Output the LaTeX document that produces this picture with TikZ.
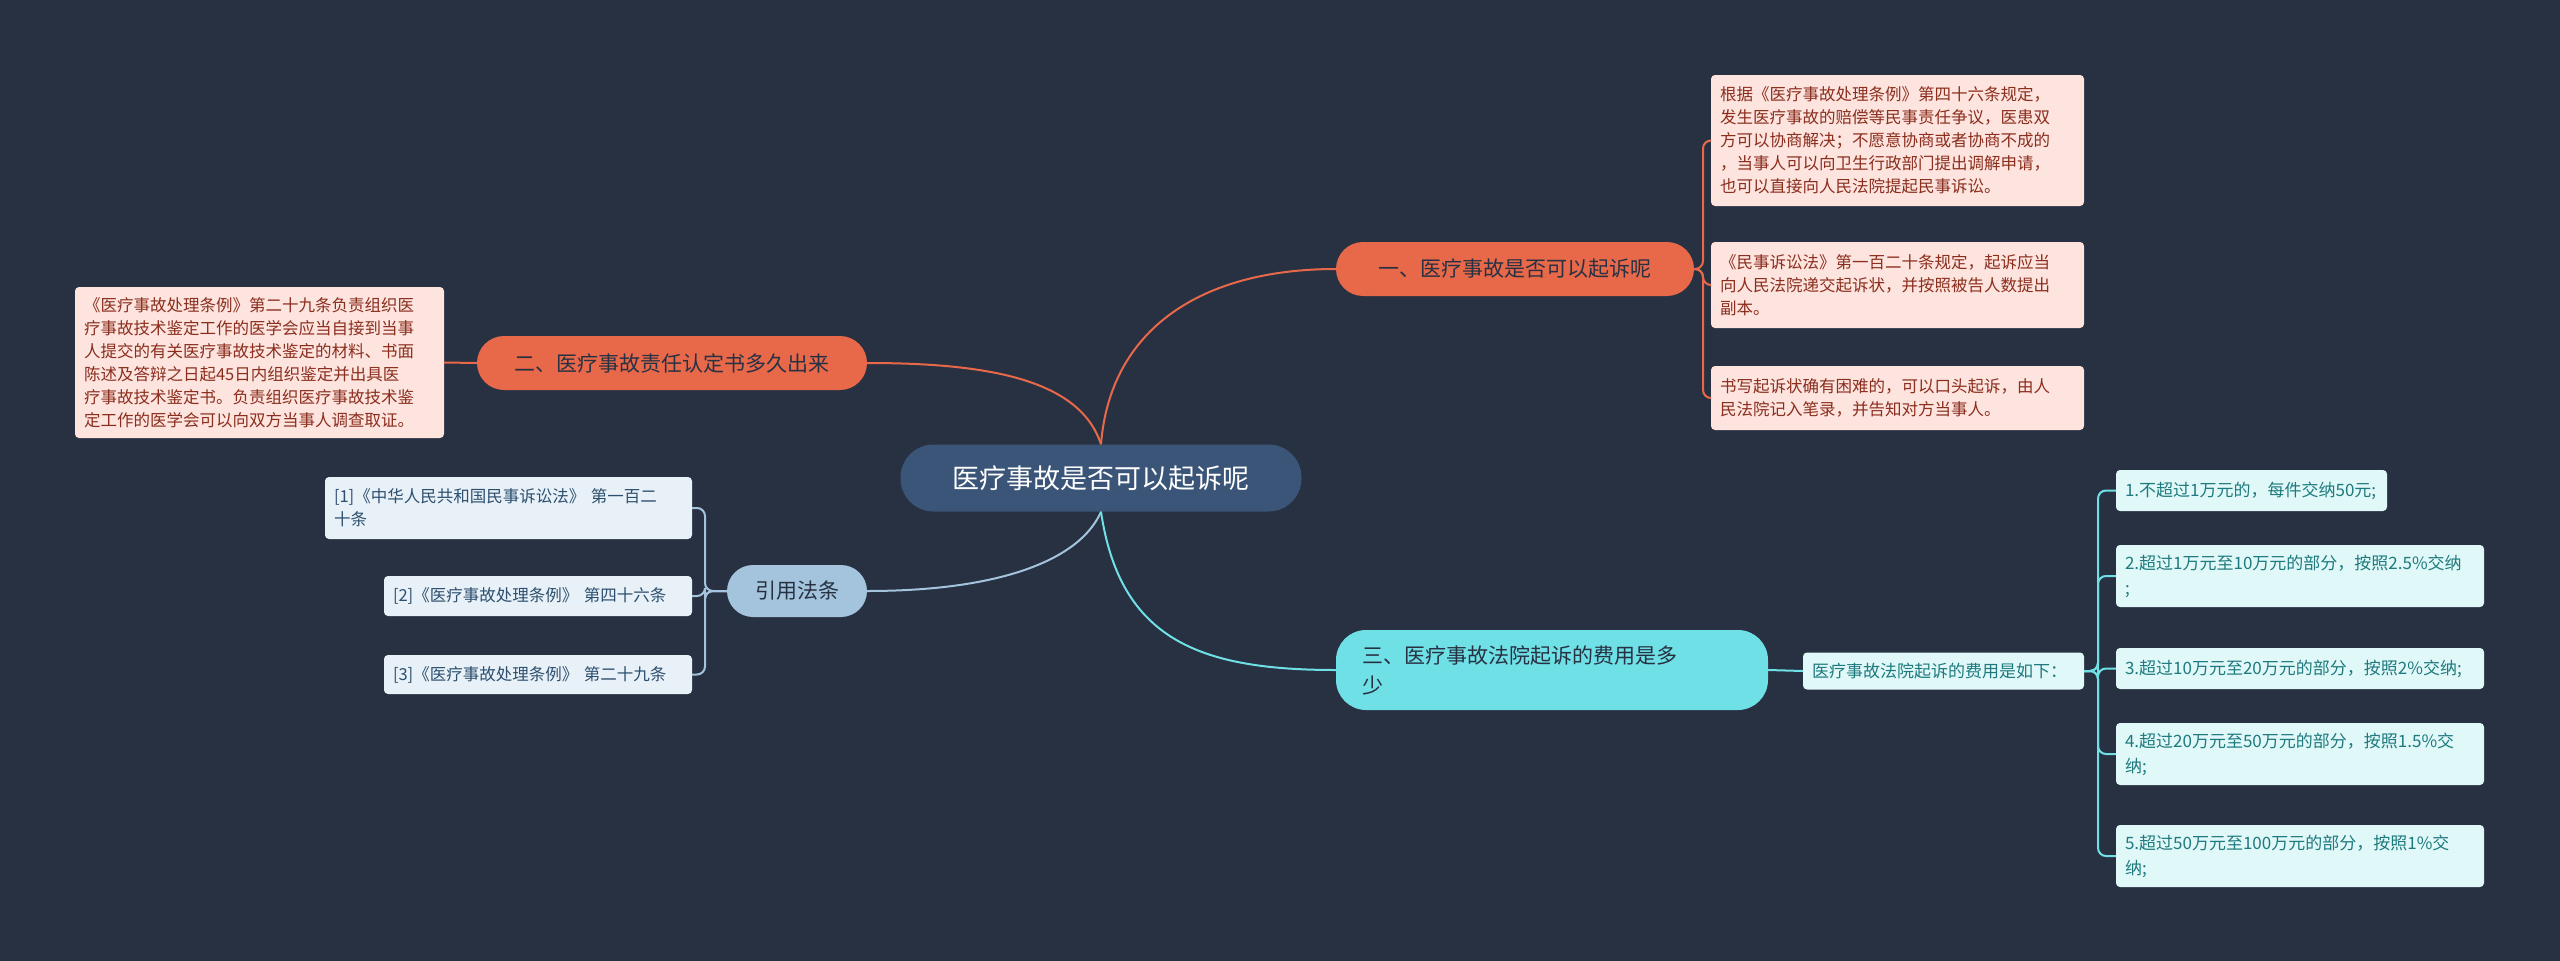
\documentclass[tikz,border=0pt]{standalone}
\usepackage{fontspec}
\setmainfont{Noto Sans CJK SC}
\begin{document}
\begin{tikzpicture}[x=1pt,y=-1pt,
 box/.style={rounded corners=4pt,inner xsep=9pt,inner ysep=0pt,align=left},
 leafo/.style={box,fill=leafor,text=leaftx,font=\fontsize{16.5}{23}\selectfont},
 leafb/.style={box,fill=leafbl,text=reftx,font=\fontsize{16.5}{23}\selectfont},
 leafc/.style={box,fill=leafcy,text=cytx,font=\fontsize{17}{25}\selectfont},
 lo/.style={draw=lineor,line width=2pt},
 lb/.style={draw=linebl,line width=2pt},
 lc/.style={draw=linecy,line width=2pt}]
\definecolor{bg}{HTML}{283142}
\definecolor{lineor}{HTML}{E8684A}
\definecolor{linebl}{HTML}{A3C4DC}
\definecolor{linecy}{HTML}{6EE0E6}
\definecolor{leafor}{HTML}{FDE4DE}
\definecolor{leaftx}{HTML}{8B2E1E}
\definecolor{leafbl}{HTML}{E8F1F8}
\definecolor{reftx}{HTML}{2D4F6E}
\definecolor{leafcy}{HTML}{E0F8F8}
\definecolor{cytx}{HTML}{1E7A7E}
\definecolor{cent}{HTML}{3B5578}
\fill[bg] (0,0) rectangle (2560,961);
\useasboundingbox (0,0) rectangle (2560,961);
% main nodes
\node[fill=cent,text=white,rounded corners=33pt,minimum width=401pt,minimum height=67pt,font=\fontsize{27}{32}\selectfont] (c) at (1101,478) {医疗事故是否可以起诉呢};
\node[fill=lineor,text=bg,rounded corners=27pt,minimum width=358pt,minimum height=54pt,font=\fontsize{21}{26}\selectfont] (b1) at (1515,269) {一、医疗事故是否可以起诉呢};
\node[fill=lineor,text=bg,rounded corners=27pt,minimum width=390pt,minimum height=54pt,font=\fontsize{21}{26}\selectfont] (b2) at (672,363) {二、医疗事故责任认定书多久出来};
\node[fill=linebl,text=bg,rounded corners=26pt,minimum width=140pt,minimum height=52pt,font=\fontsize{21}{26}\selectfont] (b3) at (797,591) {引用法条};
\node[fill=linecy,text=bg,rounded corners=30pt,minimum height=80pt,text width=380pt,inner xsep=26pt,align=left,font=\fontsize{21}{30}\selectfont] (b4) at (1552,670) {三、医疗事故法院起诉的费用是多\\少};
% orange leaves
\node[leafo,text width=355pt,minimum height=131pt] (la) at (1897.5,140.5) {根据《医疗事故处理条例》第四十六条规定，\\发生医疗事故的赔偿等民事责任争议，医患双\\方可以协商解决；不愿意协商或者协商不成的\\，当事人可以向卫生行政部门提出调解申请，\\也可以直接向人民法院提起民事诉讼。};
\node[leafo,text width=355pt,minimum height=86pt] (lb) at (1897.5,285) {《民事诉讼法》第一百二十条规定，起诉应当\\向人民法院递交起诉状，并按照被告人数提出\\副本。};
\node[leafo,text width=355pt,minimum height=64pt] (lc) at (1897.5,398) {书写起诉状确有困难的，可以口头起诉，由人\\民法院记入笔录，并告知对方当事人。};
\node[leafo,text width=351pt,minimum height=151pt] (ll) at (259.5,362.5) {《医疗事故处理条例》第二十九条负责组织医\\疗事故技术鉴定工作的医学会应当自接到当事\\人提交的有关医疗事故技术鉴定的材料、书面\\陈述及答辩之日起45日内组织鉴定并出具医\\疗事故技术鉴定书。负责组织医疗事故技术鉴\\定工作的医学会可以向双方当事人调查取证。};
% refs
\node[leafb,text width=349pt,minimum height=62pt] (r1) at (508.5,508) {[1]《中华人民共和国民事诉讼法》 第一百二\\十条};
\node[leafb,text width=290pt,minimum height=40pt] (r2) at (538,596) {[2]《医疗事故处理条例》 第四十六条};
\node[leafb,text width=290pt,minimum height=39pt] (r3) at (538,674.5) {[3]《医疗事故处理条例》 第二十九条};
% fees
\node[leafc,text width=263pt,minimum height=37pt] (s) at (1943.5,671) {医疗事故法院起诉的费用是如下：};
\node[leafc,text width=253pt,minimum height=41pt] (f1) at (2251.5,490.5) {1.不超过1万元的，每件交纳50元;};
\node[leafc,text width=350pt,minimum height=62pt] (f2) at (2300,576) {2.超过1万元至10万元的部分，按照2.5\%交纳\\;};
\node[leafc,text width=350pt,minimum height=41pt] (f3) at (2300,668.5) {3.超过10万元至20万元的部分，按照2\%交纳;};
\node[leafc,text width=350pt,minimum height=62pt] (f4) at (2300,754) {4.超过20万元至50万元的部分，按照1.5\%交\\纳;};
\node[leafc,text width=350pt,minimum height=62pt] (f5) at (2300,856) {5.超过50万元至100万元的部分，按照1\%交\\纳;};
% connectors
\draw[lo] (c.north) .. controls (1110,330) and (1200,269) .. (b1.west);
\draw[lo] (b2.east) .. controls (990,363) and (1080,380) .. (c.north);
\draw[lb] (b3.east) .. controls (1000,591) and (1080,560) .. (c.south);
\draw[lc] (c.south) .. controls (1120,640) and (1200,670) .. (b4.west);
\draw[lo] (b2.west) -- (ll.east);
\draw[lc] (b4.east) -- (s.west);
\foreach \n in {la,lb,lc}
  \draw[lo,rounded corners=8pt] (b1.east) -- (1703,269) |- (\n.west);
\foreach \n in {r1,r2,r3}
  \draw[lb,rounded corners=8pt] (b3.west) -- (705,591) |- (\n.east);
\foreach \n in {f1,f2,f3,f4,f5}
  \draw[lc,rounded corners=8pt] (s.east) -- (2098,671) |- (\n.west);
\end{tikzpicture}
\end{document}
